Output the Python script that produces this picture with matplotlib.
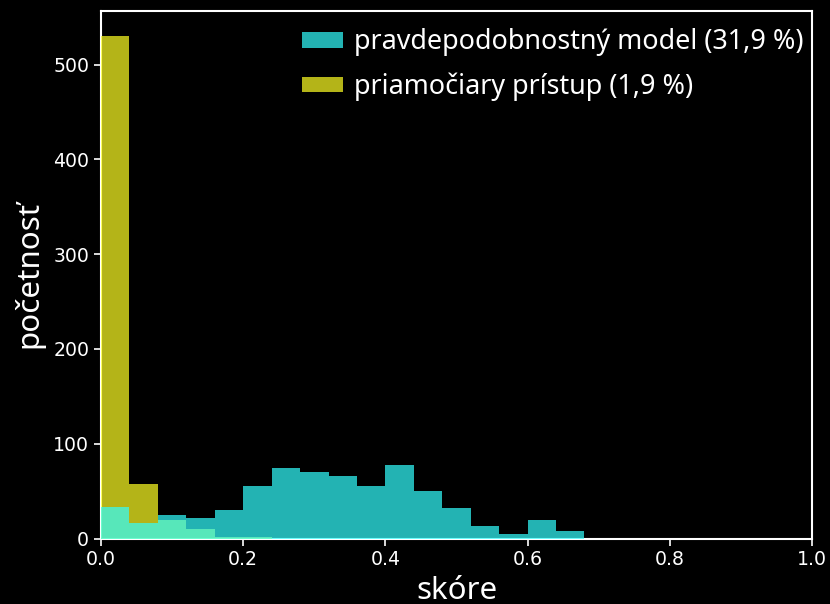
import numpy as np
import matplotlib
matplotlib.use("Agg")
import matplotlib.pyplot as plt

# Histogram counts per score bin (bin width 0.04 starting at 0.0)
bin_width = 0.04
model_counts = [33, 16, 25, 22, 30, 55, 74, 70, 66, 55, 78, 50, 32, 13, 5, 20, 8]
direct_counts = [530, 58, 19, 10, 2, 2]

model_label = "pravdepodobnostný model (31,9 %)"
direct_label = "priamočiary prístup (1,9 %)"
x_label = "skóre"
y_label = "početnosť"
x_ticks = [0.0, 0.2, 0.4, 0.6, 0.8, 1.0]
y_ticks = [0, 100, 200, 300, 400, 500]

model_color = "#32fcfc"
direct_color = "#fefe22"
bar_alpha = 0.713

fig = plt.figure(figsize=(8.30, 6.04), dpi=100, facecolor="black")
ax = fig.add_axes([101 / 830, 1 - 538.5 / 604, 711 / 830, 527.5 / 604])
ax.set_facecolor("black")

direct_left = np.arange(len(direct_counts)) * bin_width
model_left = np.arange(len(model_counts)) * bin_width

# bars sit above the spines so the translucent fill tints the baseline
ax.bar(direct_left, direct_counts, width=bin_width, align="edge",
       color=direct_color, alpha=bar_alpha, linewidth=0, zorder=3,
       label=direct_label)
ax.bar(model_left, model_counts, width=bin_width, align="edge",
       color=model_color, alpha=bar_alpha, linewidth=0, zorder=3,
       label=model_label)

ax.set_xlim(0, 1)
ax.set_ylim(0, max(direct_counts) * 1.05)
ax.set_xticks(x_ticks)
ax.set_xticklabels([f"{t:.1f}" for t in x_ticks])
ax.set_yticks(y_ticks)

for side in ("top", "right", "bottom", "left"):
    ax.spines[side].set_color("white")
    ax.spines[side].set_linewidth(1.5)

ax.tick_params(colors="white", labelcolor="white", labelsize=13.6,
               length=5, width=1.2, direction="out")
for lab in ax.get_xticklabels() + ax.get_yticklabels():
    lab.set_fontfamily("DejaVu Sans")

ax.set_xlabel(x_label, fontsize=22.5, color="white", family="Noto Sans",
              labelpad=4.5)
ax.set_ylabel(y_label, fontsize=22.5, color="white", family="Noto Sans",
              labelpad=6)

handles, labels = ax.get_legend_handles_labels()
leg = ax.legend(handles[::-1], labels[::-1], loc="upper right",
                bbox_to_anchor=(1.0, 0.984),
                frameon=False, prop={"family": "Noto Sans", "size": 19.4},
                handlelength=1.52, handleheight=0.52, handletextpad=0.4,
                labelspacing=0.6, borderpad=0.2, borderaxespad=0.13)
for txt in leg.get_texts():
    txt.set_color("white")

fig.savefig("out.png", dpi=100, facecolor="black")
